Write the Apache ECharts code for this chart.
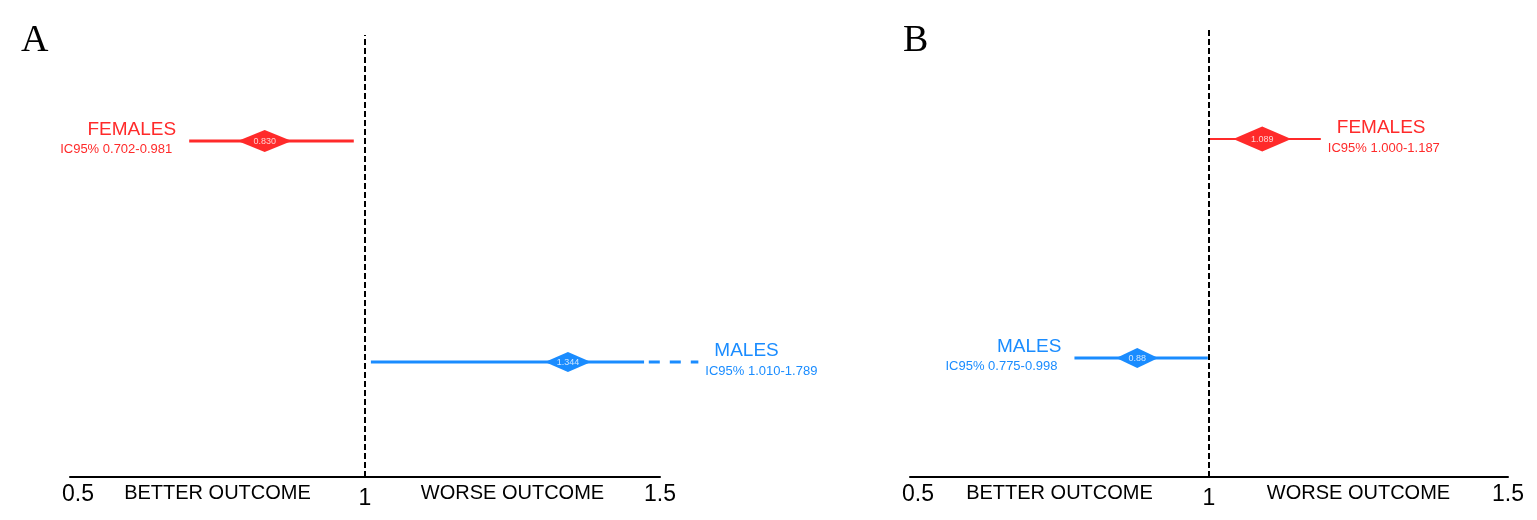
<!DOCTYPE html>
<html>
<head>
<meta charset="utf-8">
<script src="https://cdn.jsdelivr.net/npm/echarts@6/dist/echarts.min.js"></script>
<style>
  html, body { margin: 0; padding: 0; background: #fff; }
  #chart { width: 1537px; height: 520px; }
</style>
</head>
<body>
<div id="chart"></div>
<script>
// rows, bottom to top
const categories = ['MALES', 'FEMALES']
const sexColors = ['#1a8cff', '#ff2a2a']

// panel A
const estA = [1.344, 0.830]
const loA = [1.010, 0.702]
const hiA = [1.789, 0.981]
const estTextA = ['1.344', '0.830']

// panel B
const estB = [0.88, 1.089]
const loB = [0.775, 1.000]
const hiB = [0.998, 1.187]
const estTextB = ['0.88', '1.089']

// x axis
const tickValues = [0.5, 0.75, 1, 1.25, 1.5]
const tickText = ['0.5', 'BETTER OUTCOME', '1', 'WORSE OUTCOME', '1.5']
const xMin = 0.5
const xMax = 1.5

const FONT = 'Liberation Sans, Arial, sans-serif'

// layout of the two panels
const panels = [
  {
    letter: 'A', letterX: 21,
    grid: { left: 70, width: 590, top: 35, height: 442 },
    yMin: 0.48, yMax: 2.48,
    est: estA, lo: loA, hi: hiA, estText: estTextA,
    side: ['right', 'left'],
    diamond: [[46, 20], [54, 22]],
    lineWidth: [3, 3]
  },
  {
    letter: 'B', letterX: 903,
    grid: { left: 910, width: 598, top: 28, height: 449 },
    yMin: 0.457, yMax: 2.507,
    est: estB, lo: loB, hi: hiB, estText: estTextB,
    side: ['left', 'right'],
    diamond: [[42, 20], [58, 25]],
    lineWidth: [3, 2]
  }
]

// when the upper limit runs off the axis: solid part, then dashes
const solidStop = 1.473
const dashFrom = 1.481
const dashTo = 1.565

const makeRender = p => (params, api) => {
  const i = params.dataIndex
  const row = api.value(3)
  const color = sexColors[i]
  const lw = p.lineWidth[i]
  const hiVal = api.value(2)
  const cut = hiVal > xMax
  const a = api.coord([api.value(0), row])
  const c = api.coord([api.value(1), row])
  const b = api.coord([cut ? solidStop : hiVal, row])
  const kids = []

  kids.push({
    type: 'line',
    shape: { x1: a[0], y1: a[1], x2: b[0], y2: b[1] },
    style: { stroke: color, lineWidth: lw }
  })
  let endX = b[0]
  if (cut) {
    const d1 = api.coord([dashFrom, row])
    const d2 = api.coord([dashTo, row])
    kids.push({
      type: 'line',
      shape: { x1: d1[0], y1: d1[1], x2: d2[0], y2: d2[1] },
      style: { stroke: color, lineWidth: lw, lineDash: [11, 10] }
    })
    endX = d2[0]
  }

  const [w, h] = p.diamond[i]
  kids.push({
    type: 'polygon',
    shape: { points: [[c[0] - w / 2, c[1]], [c[0], c[1] - h / 2], [c[0] + w / 2, c[1]], [c[0], c[1] + h / 2]] },
    style: { fill: color }
  })
  kids.push({
    type: 'text',
    style: {
      text: p.estText[i], x: c[0], y: c[1] + 0.5,
      align: 'center', verticalAlign: 'middle',
      fill: 'rgba(255,255,255,0.78)', font: '9px ' + FONT
    }
  })

  const ic = 'IC95% ' + p.lo[i].toFixed(3) + '-' + p.hi[i].toFixed(3)
  if (p.side[i] === 'right') {
    kids.push({
      type: 'text',
      style: { text: categories[i], x: endX + 16, y: c[1] - 11, align: 'left', verticalAlign: 'middle', fill: color, font: '19px ' + FONT }
    })
    kids.push({
      type: 'text',
      style: { text: ic, x: endX + 7, y: c[1] + 9, align: 'left', verticalAlign: 'middle', fill: color, font: '13px ' + FONT }
    })
  } else {
    kids.push({
      type: 'text',
      style: { text: categories[i], x: a[0] - 13, y: c[1] - 11, align: 'right', verticalAlign: 'middle', fill: color, font: '19px ' + FONT }
    })
    kids.push({
      type: 'text',
      style: { text: ic, x: a[0] - 17, y: c[1] + 8, align: 'right', verticalAlign: 'middle', fill: color, font: '13px ' + FONT }
    })
  }
  return { type: 'group', children: kids }
}

const chart = echarts.init(document.getElementById('chart'), null, { renderer: 'canvas' })

const option = {
  animation: false,
  backgroundColor: '#fff',
  graphic: panels.map(p => ({
    type: 'text',
    left: p.letterX,
    top: 22,
    style: { text: p.letter, font: '38px Liberation Serif, Times New Roman, serif', fill: '#000' }
  })),
  grid: panels.map(p => p.grid),
  xAxis: panels.map((p, k) => ({
    type: 'value',
    gridIndex: k,
    min: xMin,
    max: xMax,
    interval: 0.25,
    splitLine: { show: false },
    axisTick: { show: false },
    axisLine: { show: true, lineStyle: { color: '#000', width: 2 } },
    axisLabel: {
      show: true,
      showMinLabel: true,
      showMaxLabel: true,
      margin: 6,
      color: '#000',
      formatter: v => {
        const j = tickValues.findIndex(t => Math.abs(t - v) < 1e-6)
        if (j < 0) return ''
        if (j === 0) return '{first|' + tickText[j] + '}'
        if (j === 2) return '{mid|' + tickText[j] + '}'
        return j % 2 === 0 ? '{num|' + tickText[j] + '}' : '{txt|' + tickText[j] + '}'
      },
      rich: {
        first: { fontFamily: FONT, fontSize: 23, color: '#000', padding: [0, 0, 0, 16] },
        mid: { fontFamily: FONT, fontSize: 23, color: '#000', padding: [4, 0, 0, 0] },
        num: { fontFamily: FONT, fontSize: 23, color: '#000' },
        txt: { fontFamily: FONT, fontSize: 20, color: '#000' }
      }
    }
  })),
  yAxis: panels.map((p, k) => ({
    type: 'value',
    gridIndex: k,
    min: p.yMin,
    max: p.yMax,
    show: false,
    splitLine: { show: false }
  })),
  series: panels.map((p, k) => ({
    type: 'custom',
    xAxisIndex: k,
    yAxisIndex: k,
    clip: false,
    renderItem: makeRender(p),
    data: categories.map((name, i) => [p.lo[i], p.est[i], p.hi[i], i + 1]),
    markLine: {
      silent: true,
      symbol: 'none',
      label: { show: false },
      lineStyle: { color: '#000', width: 2, type: [6, 3] },
      data: [{ xAxis: 1 }]
    }
  }))
}

chart.setOption(option)
</script>
</body>
</html>
